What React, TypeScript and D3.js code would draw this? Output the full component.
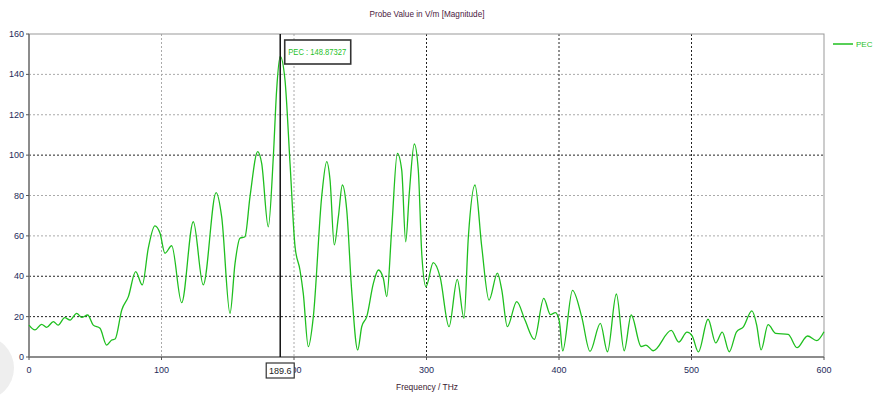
import React from "react";
import * as d3 from "d3";

const freqs = [0,4.5,9.5,13.3,18.4,22,27,31,36,39.8,44.3,48.5,53.6,58.6,62.4,65,70,75,80.5,85.5,90,95,98.9,102.6,107.7,115.2,124,131.5,141.2,145.4,151.7,155.5,159.2,163,166.8,172.6,175.6,180.6,184.4,186.9,189.6,193.2,197,200.8,204.5,207,210.8,214.6,220.9,224.7,227.2,230.4,233.5,236.5,239.8,243.5,248.1,251.1,254.9,259.9,263.7,267.4,270,273.7,278,281.3,284.3,287,290.8,293.8,296.4,299.6,305.1,310.2,317,323.2,328.3,331.6,336.6,341.7,347.2,353.5,356.8,361,368.1,374.3,381.4,388.5,393.5,397.3,400.3,402.8,410.2,417.1,423.4,431.2,436.6,443.3,449.2,454.5,462,465.6,471.1,484.7,490.4,496.6,500.5,505.2,512.5,518.3,523.2,528.5,534,539,545.6,549.2,552.5,557.8,563.6,573,579.6,587.6,594.5,600];
const values = [15.8,13.4,16.2,14.7,17.5,15.8,19.5,18.3,21.6,19.6,20.8,15.8,14.2,5.9,8.4,8.9,23.3,29.9,42.3,35.7,53.8,65,61.3,51.4,55.1,26.9,67,35.7,81.4,69.5,21.6,46.4,58.8,59.6,79.4,101.7,95.9,64.5,99.2,132.3,148.87,137.2,96,54.6,43.1,31.5,5.1,20,79.4,96.8,87.7,55.5,69.5,85.2,72.8,33.2,3.5,15,20,36.5,43.1,39,29.9,62.9,100.9,92.6,57.1,81,105.5,92.6,51.4,34.8,46.7,39.8,15,38.5,19.2,59.6,85.2,54.6,28.2,41.5,33.2,15,27.4,18.3,8.7,29,21,22,17.5,3,33,20,2.8,16.7,2.6,31.2,3.1,20.8,5.2,5.9,3.1,13.2,7.4,12.3,10.5,2.5,18.7,7,12.3,2.6,12.5,14.8,22.8,15.8,3.5,16,11.7,11.2,4.6,10.4,8.1,12.5];

const xTicks = [0, 100, 200, 300, 400, 500, 600];
const yTicks = [0, 20, 40, 60, 80, 100, 120, 140, 160];
const darkYGrid = [20, 40, 100];
const darkXGrid = [300, 400, 500];
const seriesName = "PEC";
const markerX = 189.6;
const markerY = 148.87327;
const title = "Probe Value in V/m [Magnitude]";
const xLabel = "Frequency / THz";

export default function App() {
  const W = 877, H = 395;
  const L = 29, R = 824, T = 34, B = 357;
  const x = d3.scaleLinear().domain([0, 600]).range([L, R]);
  const y = d3.scaleLinear().domain([0, 160]).range([B, T]);
  const pts = freqs.map((f, i) => [f, values[i]] as [number, number]);
  const line = d3.line<[number, number]>().x(d => x(d[0])).y(d => y(d[1])).curve(d3.curveMonotoneX);
  const font = "'Liberation Sans', Arial, sans-serif";
  const green = "#1fbf1f";
  const mx = x(markerX);
  return (
    <svg width={W} height={H} style={{ position: "absolute", left: 0, top: 0, background: "#fff" }} fontFamily={font}>
      <circle cx={-18} cy={368} r={32} fill="#eeeeee" />
      <text x={427} y={17} fontSize={8.5} textAnchor="middle" fill="#4a2040" textLength={115} lengthAdjust="spacingAndGlyphs">{title}</text>
      {yTicks.filter(t => t > 0 && t < 160).map(t => (
        <line key={"gy" + t} x1={L} x2={R} y1={y(t)} y2={y(t)} stroke={darkYGrid.includes(t) ? "#222" : "#aaa"} strokeWidth={1} strokeDasharray="2,2" />
      ))}
      {xTicks.filter(t => t > 0 && t < 600).map(t => (
        <line key={"gx" + t} x1={x(t)} x2={x(t)} y1={T} y2={B} stroke={darkXGrid.includes(t) ? "#222" : "#aaa"} strokeWidth={1} strokeDasharray="2,2" />
      ))}
      <rect x={L} y={T} width={R - L} height={B - T} fill="none" stroke="#999" strokeWidth={1} />
      <line x1={L} x2={L} y1={T} y2={B} stroke="#777" strokeWidth={1.5} />
      <line x1={L} x2={R} y1={B} y2={B} stroke="#777" strokeWidth={1.5} />
      {yTicks.map(t => (
        <g key={"yt" + t}>
          <line x1={L - 3} x2={L} y1={y(t)} y2={y(t)} stroke="#555" />
          <text x={L - 5} y={y(t) + 3} fontSize={9} textAnchor="end" fill="#1e2a5a">{t}</text>
        </g>
      ))}
      {xTicks.map(t => (
        <g key={"xt" + t}>
          <line x1={x(t)} x2={x(t)} y1={B} y2={B + 3} stroke="#555" />
          <text x={x(t)} y={B + 16} fontSize={9} textAnchor="middle" fill="#1e2a5a">{t}</text>
        </g>
      ))}
      <text x={427} y={390} fontSize={8.5} textAnchor="middle" fill="#3a2030" textLength={62} lengthAdjust="spacingAndGlyphs">{xLabel}</text>
      <path d={line(pts) || ""} fill="none" stroke={green} strokeWidth={1.3} />
      <line x1={mx} x2={mx} y1={T} y2={B} stroke="#111" strokeWidth={1.5} />
      <rect x={mx + 4.5} y={40} width={66} height={24} fill="#fff" stroke="#333" strokeWidth={1.6} />
      <text x={mx + 8} y={55} fontSize={8.5} fill={green} textLength={58} lengthAdjust="spacingAndGlyphs">{`${seriesName} : ${markerY.toFixed(5)}`}</text>
      <rect x={mx - 14} y={363} width={28} height={15} fill="#fff" stroke="#333" strokeWidth={1.2} />
      <text x={mx} y={374} fontSize={9} textAnchor="middle" fill="#222">{markerX}</text>
      <line x1={833} x2={853} y1={44} y2={44} stroke={green} strokeWidth={1.5} />
      <text x={856} y={47} fontSize={8} fill={green}>{seriesName}</text>
    </svg>
  );
}
